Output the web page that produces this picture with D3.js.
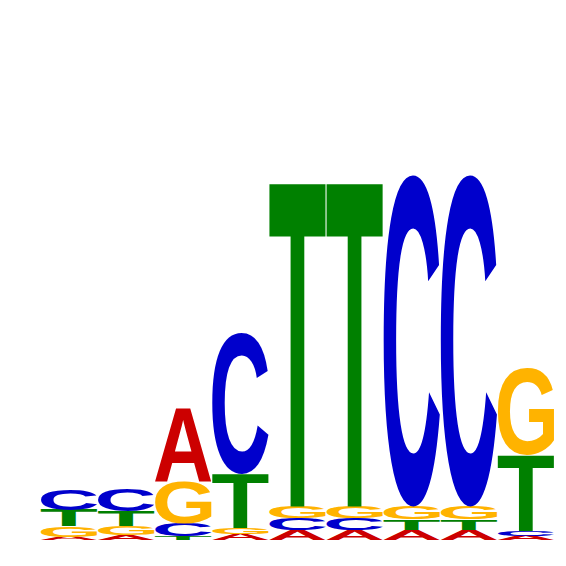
<!DOCTYPE html>
<html>
<head>
<meta charset="utf-8">
<script src="https://cdn.jsdelivr.net/npm/d3@7"></script>
<style>
  body { margin: 0; background: #fff; }
</style>
</head>
<body>
<div id="vis"></div>
<script>
const width = 566;
const height = 566;

// information content (bits) per letter at each position
const positions = [1, 2, 3, 4, 5, 6, 7, 8, 9];
const bitsA = [0.012, 0.019, 0.281, 0.023, 0.039, 0.039, 0.039, 0.039, 0.017];
const bitsC = [0.082, 0.086, 0.049, 0.545, 0.045, 0.045, 1.288, 1.288, 0.019];
const bitsG = [0.041, 0.035, 0.165, 0.025, 0.046, 0.046, 0.050, 0.050, 0.335];
const bitsT = [0.064, 0.058, 0.013, 0.208, 1.254, 1.254, 0.041, 0.041, 0.292];

const letters = ["A", "C", "G", "T"];
const letterColors = { A: "#cc0000", C: "#0000cc", G: "#ffb300", T: "#008000" };
const bitsByLetter = { A: bitsA, C: bitsC, G: bitsG, T: bitsT };

const fontSize = 500;
const fontFamily = "'Liberation Sans'";

// find the real ink box of a glyph by drawing it and scanning the pixels
function inkBox(ch) {
  const size = 800, ox = 100, oy = 650;
  const canvas = document.createElement("canvas");
  canvas.width = size;
  canvas.height = size;
  const ctx = canvas.getContext("2d");
  ctx.font = `bold ${fontSize}px ${fontFamily}`;
  ctx.textBaseline = "alphabetic";
  ctx.fillStyle = "#000";
  ctx.fillText(ch, ox, oy);
  const px = ctx.getImageData(0, 0, size, size).data;
  let minX = size, maxX = -1, minY = size, maxY = -1;
  for (let j = 0; j < size; j++) {
    for (let i = 0; i < size; i++) {
      if (px[(j * size + i) * 4 + 3] > 127) {
        if (i < minX) minX = i;
        if (i > maxX) maxX = i;
        if (j < minY) minY = j;
        if (j > maxY) maxY = j;
      }
    }
  }
  return { l: ox - minX, r: maxX + 1 - ox, a: oy - minY, d: maxY + 1 - oy };
}

function init() {
  const svg = d3
    .select("#vis")
    .append("svg")
    .attr("width", width)
    .attr("height", height);

  const x = d3.scaleBand().domain(positions).range([41, 554]).paddingInner(0.02);
  const y = d3.scaleLinear().domain([0, 2]).range([540, 26]);

  const ink = {};
  letters.forEach((ch) => (ink[ch] = inkBox(ch)));

  // stack letters per column, smallest at the bottom
  const glyphs = [];
  positions.forEach((p, i) => {
    const col = letters
      .map((ch) => ({ ch, bits: bitsByLetter[ch][i] }))
      .sort((a, b) => a.bits - b.bits);
    let base = 0;
    col.forEach((d) => {
      glyphs.push({ pos: p, ch: d.ch, y0: base, y1: base + d.bits });
      base += d.bits;
    });
  });

  svg
    .selectAll("text.letter")
    .data(glyphs)
    .enter()
    .append("text")
    .attr("class", "letter")
    .attr("x", 0)
    .attr("y", 0)
    .style("font-family", fontFamily)
    .style("font-weight", "bold")
    .style("font-size", fontSize + "px")
    .attr("fill", (d) => letterColors[d.ch])
    .attr("transform", (d) => {
      const m = ink[d.ch];
      const w = x.bandwidth();
      const top = y(d.y1);
      const h = y(d.y0) - top;
      const sx = w / (m.l + m.r);
      const sy = h / (m.a + m.d);
      return `translate(${x(d.pos) + m.l * sx},${top + m.a * sy}) scale(${sx},${sy})`;
    })
    .text((d) => d.ch);
}

document.fonts.ready.then(init);
</script>
</body>
</html>
